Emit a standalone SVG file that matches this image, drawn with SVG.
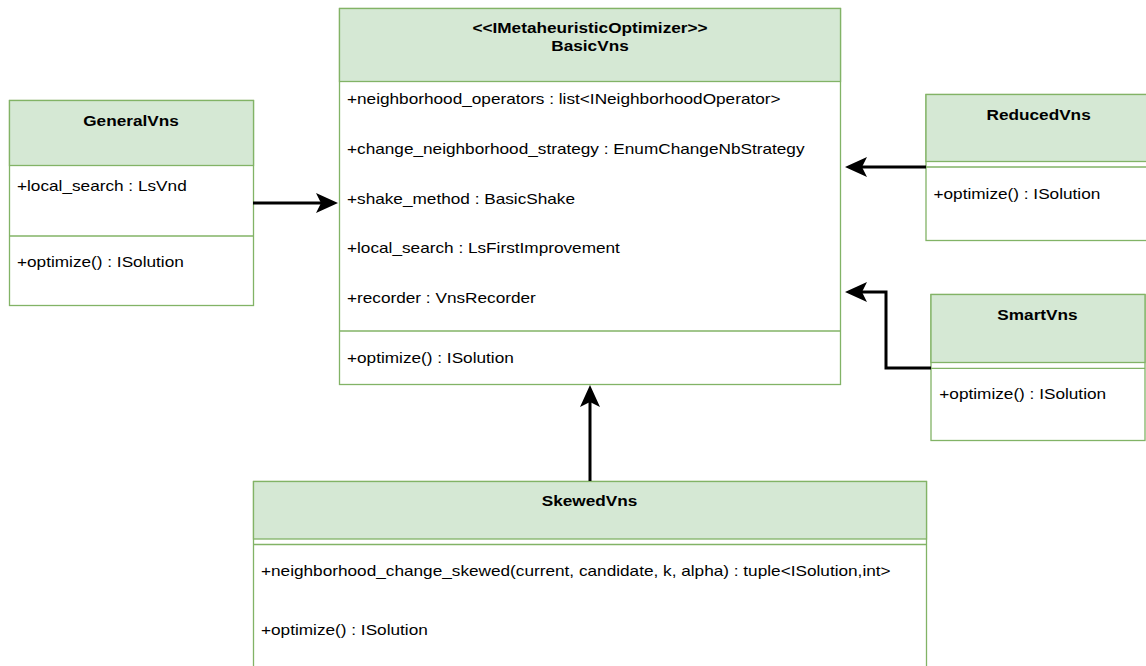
<svg xmlns="http://www.w3.org/2000/svg" width="1146" height="666" viewBox="0 0 1146 666">
<style>
.hdr{fill:#d5e8d4;stroke:#82b366;stroke-width:1.3}
.body{fill:#ffffff;stroke:#82b366;stroke-width:1.3}
.sep{stroke:#82b366;stroke-width:1.3;fill:none}
.t{font-family:"Liberation Sans",Arial,sans-serif;font-size:15px;fill:#000}
.b{font-family:"Liberation Sans",Arial,sans-serif;font-size:15px;font-weight:bold;fill:#000}
.edge{fill:none;stroke:#000;stroke-width:3}
</style>
<defs>
<marker id="arr" viewBox="0 0 22 20" refX="5" refY="10" markerWidth="22" markerHeight="20" markerUnits="userSpaceOnUse" orient="auto">
<path d="M22,10 L0,0 L5,10 L0,20 Z" fill="#000"/>
</marker>
</defs>
<rect width="1146" height="666" fill="#ffffff"/>

<g id="BasicVns">
<rect class="body" x="339.5" y="8.5" width="501" height="376"/>
<rect class="hdr" x="339.5" y="8.5" width="501" height="73"/>
<line class="sep" x1="339.5" y1="331" x2="840.5" y2="331"/>
<text class="b" x="472.4" y="33" textLength="235.2" lengthAdjust="spacingAndGlyphs">&lt;&lt;IMetaheuristicOptimizer&gt;&gt;</text>
<text class="b" x="551.3" y="51" textLength="77.4" lengthAdjust="spacingAndGlyphs">BasicVns</text>
<text class="t" x="347" y="104" textLength="433.6" lengthAdjust="spacingAndGlyphs">+neighborhood_operators : list&lt;INeighborhoodOperator&gt;</text>
<text class="t" x="347" y="154" textLength="457.5" lengthAdjust="spacingAndGlyphs">+change_neighborhood_strategy : EnumChangeNbStrategy</text>
<text class="t" x="347" y="204" textLength="228" lengthAdjust="spacingAndGlyphs">+shake_method : BasicShake</text>
<text class="t" x="347" y="253" textLength="272.9" lengthAdjust="spacingAndGlyphs">+local_search : LsFirstImprovement</text>
<text class="t" x="347" y="303" textLength="188.8" lengthAdjust="spacingAndGlyphs">+recorder : VnsRecorder</text>
<text class="t" x="347" y="363" textLength="166.8" lengthAdjust="spacingAndGlyphs">+optimize() : ISolution</text>
</g>

<g id="GeneralVns">
<rect class="body" x="9.5" y="100.5" width="244" height="205"/>
<rect class="hdr" x="9.5" y="100.5" width="244" height="65"/>
<line class="sep" x1="9.5" y1="236" x2="253.5" y2="236"/>
<text class="b" x="83.2" y="126" textLength="95.6" lengthAdjust="spacingAndGlyphs">GeneralVns</text>
<text class="t" x="17" y="191" textLength="169.7" lengthAdjust="spacingAndGlyphs">+local_search : LsVnd</text>
<text class="t" x="17" y="267" textLength="166.8" lengthAdjust="spacingAndGlyphs">+optimize() : ISolution</text>
</g>

<g id="ReducedVns">
<rect class="body" x="926" y="94.5" width="230" height="146"/>
<rect class="hdr" x="926" y="94.5" width="230" height="67"/>
<line class="sep" x1="926" y1="167" x2="1156" y2="167"/>
<text class="b" x="986.5" y="119.5" textLength="104.2" lengthAdjust="spacingAndGlyphs">ReducedVns</text>
<text class="t" x="933.5" y="198.5" textLength="166.8" lengthAdjust="spacingAndGlyphs">+optimize() : ISolution</text>
</g>

<g id="SmartVns">
<rect class="body" x="931" y="294.5" width="214" height="146"/>
<rect class="hdr" x="931" y="294.5" width="214" height="68"/>
<line class="sep" x1="931" y1="368.3" x2="1145" y2="368.3"/>
<text class="b" x="997.3" y="320" textLength="80.3" lengthAdjust="spacingAndGlyphs">SmartVns</text>
<text class="t" x="939.3" y="399" textLength="166.8" lengthAdjust="spacingAndGlyphs">+optimize() : ISolution</text>
</g>

<g id="SkewedVns">
<rect class="body" x="253.5" y="481.5" width="673" height="200"/>
<rect class="hdr" x="253.5" y="481.5" width="673" height="57.5"/>
<line class="sep" x1="253.5" y1="544.5" x2="926.5" y2="544.5"/>
<text class="b" x="541.7" y="506" textLength="95.6" lengthAdjust="spacingAndGlyphs">SkewedVns</text>
<text class="t" x="261" y="576" textLength="629.6" lengthAdjust="spacingAndGlyphs">+neighborhood_change_skewed(current, candidate, k, alpha) : tuple&lt;ISolution,int&gt;</text>
<text class="t" x="261" y="635" textLength="166.8" lengthAdjust="spacingAndGlyphs">+optimize() : ISolution</text>
</g>

<g id="connectors">
<path class="edge" d="M253,203 H321" marker-end="url(#arr)"/>
<path class="edge" d="M926,167 H862" marker-end="url(#arr)"/>
<path class="edge" d="M931,368 H886 V292 H862" marker-end="url(#arr)"/>
<path class="edge" d="M590,481 V402" marker-end="url(#arr)"/>
</g>
</svg>
